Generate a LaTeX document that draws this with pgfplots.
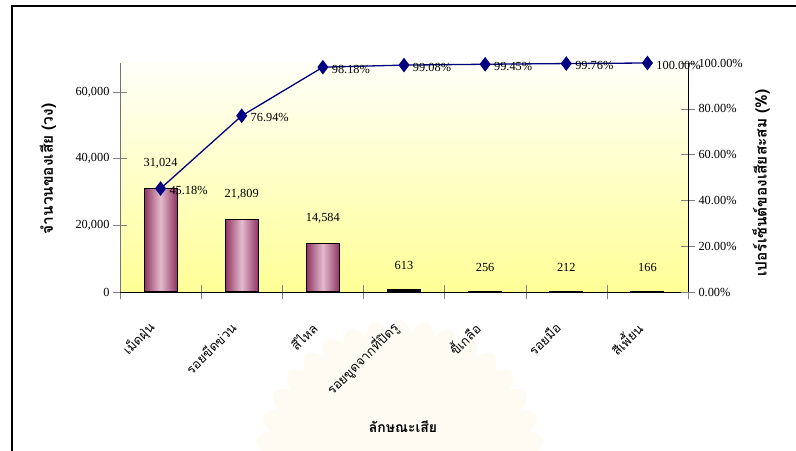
\documentclass[border=0pt]{standalone}
\usepackage{pgfplots}
\pgfplotsset{compat=1.18}
\usepackage{pgfplotstable}
\usepackage{fontspec}
\setmainfont{Liberation Serif}
\newfontfamily\thai[Script=Thai]{Loma}

\definecolor{barEdge}{RGB}{145,52,98}
\definecolor{barMid}{RGB}{226,188,206}
\definecolor{plotTop}{RGB}{255,255,248}
\definecolor{plotBottom}{RGB}{255,255,150}
\definecolor{cumLine}{RGB}{0,0,128}
\definecolor{fanTint}{RGB}{254,252,242}

% defect type index, number of defects, cumulative percentage
\pgfplotstableread{
x count cum
0 31024 45.18
1 21809 76.94
2 14584 98.18
3 613   99.08
4 256   99.45
5 212   99.76
6 166   100.00
}\defects

\pgfplotsset{
  defectbar/.style={ybar, bar width=33bp, draw=black, line width=1.1bp,
    left color=barEdge, right color=barEdge, middle color=barMid,
    nodes near coords={\pgfmathprintnumber[fixed,precision=0,1000 sep={,},assume math mode=true]{\pgfplotspointmeta}},
    every node near coord/.append style={font=\fontsize{12.4}{14}\selectfont, text=black, anchor=south, yshift=16bp}},
}

\begin{document}
\begin{tikzpicture}
\useasboundingbox (0,0) rectangle (796bp,451bp);
% faint emblem in the page background
\begin{scope}
  \clip (0,0) rectangle (796bp,451bp);
  \foreach \a in {10,20,...,170}
    \fill[fanTint, rotate around={\a:(400bp,-15bp)}] (480bp,-15bp) ellipse [x radius=66bp, y radius=20bp];
\end{scope}
\draw[line width=1.2bp] (12bp,0) -- (12bp,445bp) -- (796bp,445bp);

\begin{axis}[
  at={(120bp,159bp)}, anchor=south west,
  width=568bp, height=229bp, scale only axis,
  xmin=-0.5, xmax=6.5, ymin=0, ymax=68664,
  axis x line*=bottom, axis y line*=left,
  y axis line style={draw=black!55},
  axis background/.style={top color=plotTop, bottom color=plotBottom},
  xtick={0,...,6},
  xticklabels={เม็ดฝุ่น, รอยขีดข่วน, สีไหล, รอยขูดจากที่ปิดรู, ขี้เกลือ, รอยมือ, สีเพี้ยน},
  major x tick style={draw=none},
  minor xtick={-0.5,0.5,...,6.5},
  minor tick length=14bp, major tick length=14bp, tick align=center,
  xticklabel style={font=\thai\fontsize{13}{15}\selectfont, rotate=45, anchor=east, xshift=-21bp, yshift=-13bp},
  ytick={0,20000,40000,60000},
  scaled y ticks=false,
  yticklabel style={font=\fontsize{12.4}{14}\selectfont, /pgf/number format/.cd, fixed, 1000 sep={,}, assume math mode=true},
  clip=false,
]
% one plot per bar so that each bar carries its own shading
\addplot[defectbar] coordinates {(0,31024)};
\addplot[defectbar] coordinates {(1,21809)};
\addplot[defectbar] coordinates {(2,14584)};
\addplot[defectbar] coordinates {(3,613)};
\addplot[defectbar] coordinates {(4,256)};
\addplot[defectbar] coordinates {(5,212)};
\addplot[defectbar] coordinates {(6,166)};
\end{axis}

\begin{axis}[
  at={(120bp,159bp)}, anchor=south west,
  width=568bp, height=229bp, scale only axis,
  xmin=-0.5, xmax=6.5, ymin=0, ymax=100,
  axis x line=none, axis y line*=right,
  ytick={0,20,40,60,80,100},
  yticklabels={0.00\%,20.00\%,40.00\%,60.00\%,80.00\%,100.00\%},
  major tick length=14bp, tick align=center,
  yticklabel style={font=\fontsize{12.4}{14}\selectfont},
  clip=false,
]
\addplot[cumLine, line width=1.3bp, mark=diamond*, mark size=6.3bp,
  mark options={fill=cumLine},
  nodes near coords={\pgfmathprintnumber[fixed,fixed zerofill,precision=2,assume math mode=true]{\pgfplotspointmeta}\%},
  every node near coord/.append style={font=\fontsize{12.4}{14}\selectfont, text=black, anchor=west, xshift=5bp, yshift=-2bp},
] table[x=x, y=cum] {\defects};
\end{axis}

\node[rotate=90, font=\thai\bfseries\fontsize{15.5}{17}\selectfont] at (48bp,282bp) {จำนวนของเสีย (วง)};
\node[rotate=90, font=\thai\bfseries\fontsize{15.5}{17}\selectfont] at (761bp,268bp) {เปอร์เซ็นต์ของเสียสะสม (\%)};
\node[font=\thai\bfseries\fontsize{14}{16}\selectfont] at (403bp,24bp) {ลักษณะเสีย};
\end{tikzpicture}
\end{document}
